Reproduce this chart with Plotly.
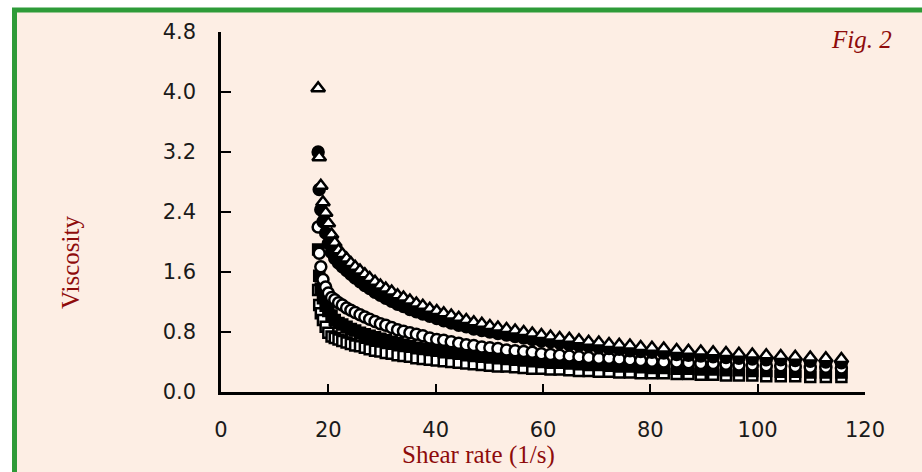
import plotly.graph_objects as go

# Shear rate (1/s) shared by all runs
shear_rate = [18.1, 18.3, 18.6, 19.0, 19.5, 20.0, 20.6, 21.2, 21.9, 22.6, 23.4, 24.2, 25.0,
              25.9, 26.8, 27.7, 28.7, 29.7, 30.7, 31.8, 32.9, 34.0, 35.2, 36.4, 37.6, 38.9,
              40.2, 41.5, 42.9, 44.3, 45.7, 47.1, 48.6, 50.1, 51.6, 53.2, 54.8, 56.4, 58.0,
              59.7, 61.4, 63.1, 64.9, 66.7, 68.5, 70.4, 72.3, 74.2, 76.2, 78.2, 80.3, 82.5,
              84.9, 87.1, 89.4, 91.7, 94.1, 96.5, 99.0, 101.6, 104.3, 107.0, 109.8, 112.7, 115.6]

# open triangles (highest)
visc_tri_open = [4.05, 3.13, 2.75, 2.53, 2.39, 2.25, 2.10, 1.99, 1.89, 1.84, 1.78, 1.72, 1.67,
                 1.62, 1.57, 1.52, 1.47, 1.42, 1.38, 1.34, 1.29, 1.26, 1.22, 1.18, 1.15, 1.11,
                 1.08, 1.05, 1.02, 0.99, 0.96, 0.93, 0.91, 0.88, 0.86, 0.84, 0.82, 0.80, 0.78,
                 0.76, 0.74, 0.72, 0.71, 0.69, 0.67, 0.66, 0.64, 0.63, 0.62, 0.60, 0.59, 0.58,
                 0.56, 0.55, 0.54, 0.53, 0.52, 0.51, 0.50, 0.49, 0.48, 0.47, 0.46, 0.45, 0.44]

# filled circles
visc_circ_fill = [3.20, 2.70, 2.43, 2.27, 2.12, 1.98, 1.86, 1.78, 1.72, 1.67, 1.62, 1.57, 1.52,
                  1.47, 1.42, 1.38, 1.33, 1.29, 1.25, 1.21, 1.17, 1.14, 1.10, 1.07, 1.04, 1.01,
                  0.98, 0.95, 0.92, 0.89, 0.87, 0.84, 0.82, 0.80, 0.78, 0.76, 0.74, 0.72, 0.70,
                  0.68, 0.67, 0.65, 0.63, 0.62, 0.61, 0.59, 0.58, 0.57, 0.55, 0.54, 0.53, 0.52,
                  0.50, 0.49, 0.48, 0.47, 0.46, 0.45, 0.44, 0.43, 0.43, 0.42, 0.41, 0.40, 0.39]

# open circles
visc_circ_open = [2.20, 1.85, 1.67, 1.50, 1.40, 1.32, 1.26, 1.23, 1.19, 1.16, 1.12, 1.09, 1.06,
                  1.03, 1.00, 0.97, 0.94, 0.91, 0.89, 0.86, 0.83, 0.81, 0.79, 0.77, 0.75, 0.72,
                  0.70, 0.69, 0.67, 0.65, 0.63, 0.62, 0.60, 0.59, 0.58, 0.56, 0.55, 0.54, 0.53,
                  0.51, 0.50, 0.49, 0.48, 0.47, 0.46, 0.45, 0.45, 0.44, 0.43, 0.42, 0.41, 0.40,
                  0.40, 0.39, 0.38, 0.38, 0.37, 0.36, 0.36, 0.35, 0.35, 0.34, 0.33, 0.33, 0.32]

# filled squares
visc_sq_fill = [1.90, 1.55, 1.38, 1.25, 1.15, 1.08, 1.02, 0.96, 0.92, 0.90, 0.87, 0.84, 0.82,
                0.79, 0.77, 0.75, 0.73, 0.71, 0.69, 0.67, 0.65, 0.63, 0.61, 0.59, 0.58, 0.56,
                0.55, 0.53, 0.52, 0.51, 0.49, 0.48, 0.47, 0.46, 0.45, 0.44, 0.43, 0.42, 0.41,
                0.40, 0.39, 0.39, 0.38, 0.37, 0.36, 0.36, 0.35, 0.34, 0.34, 0.33, 0.32, 0.32,
                0.31, 0.31, 0.30, 0.30, 0.29, 0.29, 0.28, 0.28, 0.27, 0.27, 0.26, 0.26, 0.26]

# open squares (lowest)
visc_sq_open = [1.36, 1.16, 1.05, 0.96, 0.87, 0.79, 0.74, 0.72, 0.70, 0.68, 0.66, 0.64, 0.62,
                0.61, 0.59, 0.57, 0.55, 0.54, 0.52, 0.51, 0.49, 0.48, 0.47, 0.45, 0.44, 0.43,
                0.42, 0.41, 0.40, 0.39, 0.38, 0.37, 0.36, 0.35, 0.34, 0.34, 0.33, 0.32, 0.31,
                0.31, 0.30, 0.30, 0.29, 0.28, 0.28, 0.27, 0.27, 0.26, 0.26, 0.25, 0.25, 0.25,
                0.24, 0.24, 0.23, 0.23, 0.22, 0.22, 0.22, 0.21, 0.21, 0.21, 0.20, 0.20, 0.20]

x_ticks = [0, 20, 40, 60, 80, 100, 120]
y_ticks = [0.0, 0.8, 1.6, 2.4, 3.2, 4.0, 4.8]
y_tick_text = ["0.0", "0.8", "1.6", "2.4", "3.2", "4.0", "4.8"]

BG = "#FDEEE4"
GREEN = "#2E9B38"
RED = "#8E0B0B"

fig = go.Figure()

def add(y, symbol, fill, size):
    fig.add_trace(go.Scatter(
        x=shear_rate, y=y, mode="markers", showlegend=False, cliponaxis=False,
        marker=dict(symbol=symbol, size=size, color=fill,
                    line=dict(color="black", width=2.5)),
    ))

add(visc_sq_open, "square", "white", 10)
add(visc_sq_fill, "square", "black", 10)
add(visc_circ_open, "circle", "white", 11)
add(visc_circ_fill, "circle", "black", 11)
add(visc_tri_open, "triangle-up", "white", 12)

L, R, T, B = 221, 57, 32, 80
W, H = 922, 472
pw, ph = W - L - R, H - T - B

def px(xp):
    return (xp - L) / pw

def py(yp):
    return (H - B - yp) / ph

fig.add_shape(type="rect", xref="paper", yref="paper",
              x0=px(14.5), x1=px(940), y0=py(490), y1=py(10),
              line=dict(color=GREEN, width=5), fillcolor=BG, layer="below")

tickfont = dict(family="DejaVu Sans", size=21, color="#1a1a1a")

fig.update_xaxes(range=[0, 120], tickvals=x_ticks, ticks="inside", ticklen=8,
                 tickwidth=2, tickcolor="black", showline=True, linecolor="black",
                 linewidth=2.5, showgrid=False, zeroline=False, tickfont=tickfont,
                 ticklabelstandoff=17)
fig.update_yaxes(range=[0, 4.8], tickvals=y_ticks, ticktext=y_tick_text, ticks="inside",
                 ticklen=10, tickwidth=2, tickcolor="black", showline=True,
                 linecolor="black", linewidth=2.5, showgrid=False, zeroline=False,
                 tickfont=tickfont, ticklabelstandoff=18)

fig.add_annotation(text="Viscosity", xref="paper", yref="paper", x=px(70), y=py(263),
                   xanchor="center", yanchor="middle",
                   textangle=-90, showarrow=False,
                   font=dict(family="Liberation Serif", size=25, color=RED))
fig.add_annotation(text="Shear rate (1/s)", xref="paper", yref="paper", x=px(478), y=py(455),
                   xanchor="center", yanchor="middle",
                   showarrow=False, font=dict(family="Liberation Serif", size=25, color=RED))
fig.add_annotation(text="<i>Fig. 2</i>", xref="paper", yref="paper", x=px(861), y=py(39),
                   xanchor="center", yanchor="middle",
                   showarrow=False, font=dict(family="Liberation Serif", size=25, color=RED))

fig.update_layout(width=W, height=H, margin=dict(l=L, r=R, t=T, b=B),
                  paper_bgcolor="white", plot_bgcolor="rgba(0,0,0,0)")

fig.write_html("out.html")
